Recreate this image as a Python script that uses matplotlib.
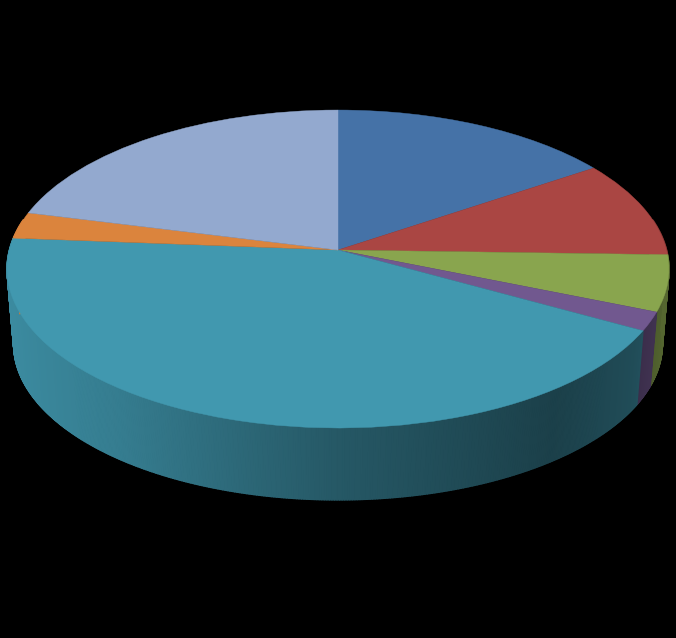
import numpy as np
import matplotlib
matplotlib.use('Agg')
import matplotlib.pyplot as plt
from matplotlib.collections import PolyCollection
from matplotlib.colors import to_rgb
from matplotlib.transforms import Transform

# slice shares, clockwise from 12 o'clock
shares = [15.6, 9.9, 5.7, 1.9, 43.2, 2.7, 21.1]
colors = ['#4572A7', '#AA4643', '#89A54E', '#71588F', '#4198AF', '#DB843D', '#93A9CF']

# camera setup for the tilted disc, in image pixels
APEX_X, APEX_Y = 338, 250
SCALE_X, SCALE_Y, PERSP = 328.6, 156.7, 0.1195
DEPTH, FLOOR_SCALE = 75.5, 0.98


class TiltTransform(Transform):
    # unit disc -> image pixels, with the near edge bigger than the far one
    input_dims = 2
    output_dims = 2
    has_inverse = False

    def __init__(self, drop=0.0, scale=1.0):
        super().__init__()
        self.drop = drop
        self.scale = scale

    def transform_non_affine(self, values):
        values = np.asarray(values, float)
        u, v = values[:, 0], values[:, 1]
        w = 1 + PERSP * v
        x = APEX_X + self.scale * SCALE_X * u / w
        y = APEX_Y + self.drop - self.scale * SCALE_Y * v / w
        return np.column_stack([x, y])


def wall_shade(u):
    # how much the side wall darkens going round from left to right
    return np.interp(u, [-1, -0.6, 0, 0.6, 0.85, 1], [0.92, 0.82, 0.58, 0.42, 0.5, 0.62])


fig = plt.figure(figsize=(6.76, 6.38), dpi=100, facecolor='black')
ax = fig.add_axes([0, 0, 1, 1], facecolor='black')

wedges, _ = ax.pie(shares, colors=colors, startangle=90, counterclock=False)

top = TiltTransform()
floor = TiltTransform(drop=DEPTH, scale=FLOOR_SCALE)

# side wall, each slice split into thin strips so the shading runs smoothly
for wedge, color in zip(wedges, colors):
    base = np.array(to_rgb(color))
    steps = max(2, int((wedge.theta2 - wedge.theta1) / 0.4) + 1)
    angles = np.radians(np.linspace(wedge.theta1, wedge.theta2, steps + 1))
    polys = []
    poly_colors = []
    for a0, a1 in zip(angles[:-1], angles[1:]):
        if np.sin((a0 + a1) / 2) > 0.2:
            continue
        rim = np.array([[np.cos(a0), np.sin(a0)], [np.cos(a1), np.sin(a1)]])
        upper = top.transform_non_affine(rim)
        lower = floor.transform_non_affine(rim)
        polys.append(np.vstack([upper, lower[::-1]]))
        poly_colors.append(base * wall_shade(np.cos((a0 + a1) / 2)))
    if polys:
        ax.add_collection(PolyCollection(polys, facecolors=poly_colors, edgecolors=poly_colors,
                                         linewidths=1.0, zorder=1))

for wedge in wedges:
    wedge.set_transform(top + ax.transData)
    wedge.set_zorder(2)
    wedge.set_edgecolor(wedge.get_facecolor())
    wedge.set_linewidth(0.3)

ax.set_aspect('auto')
ax.set_xlim(0, 676)
ax.set_ylim(638, 0)
ax.axis('off')

fig.savefig('out.png', dpi=100, facecolor='black')
